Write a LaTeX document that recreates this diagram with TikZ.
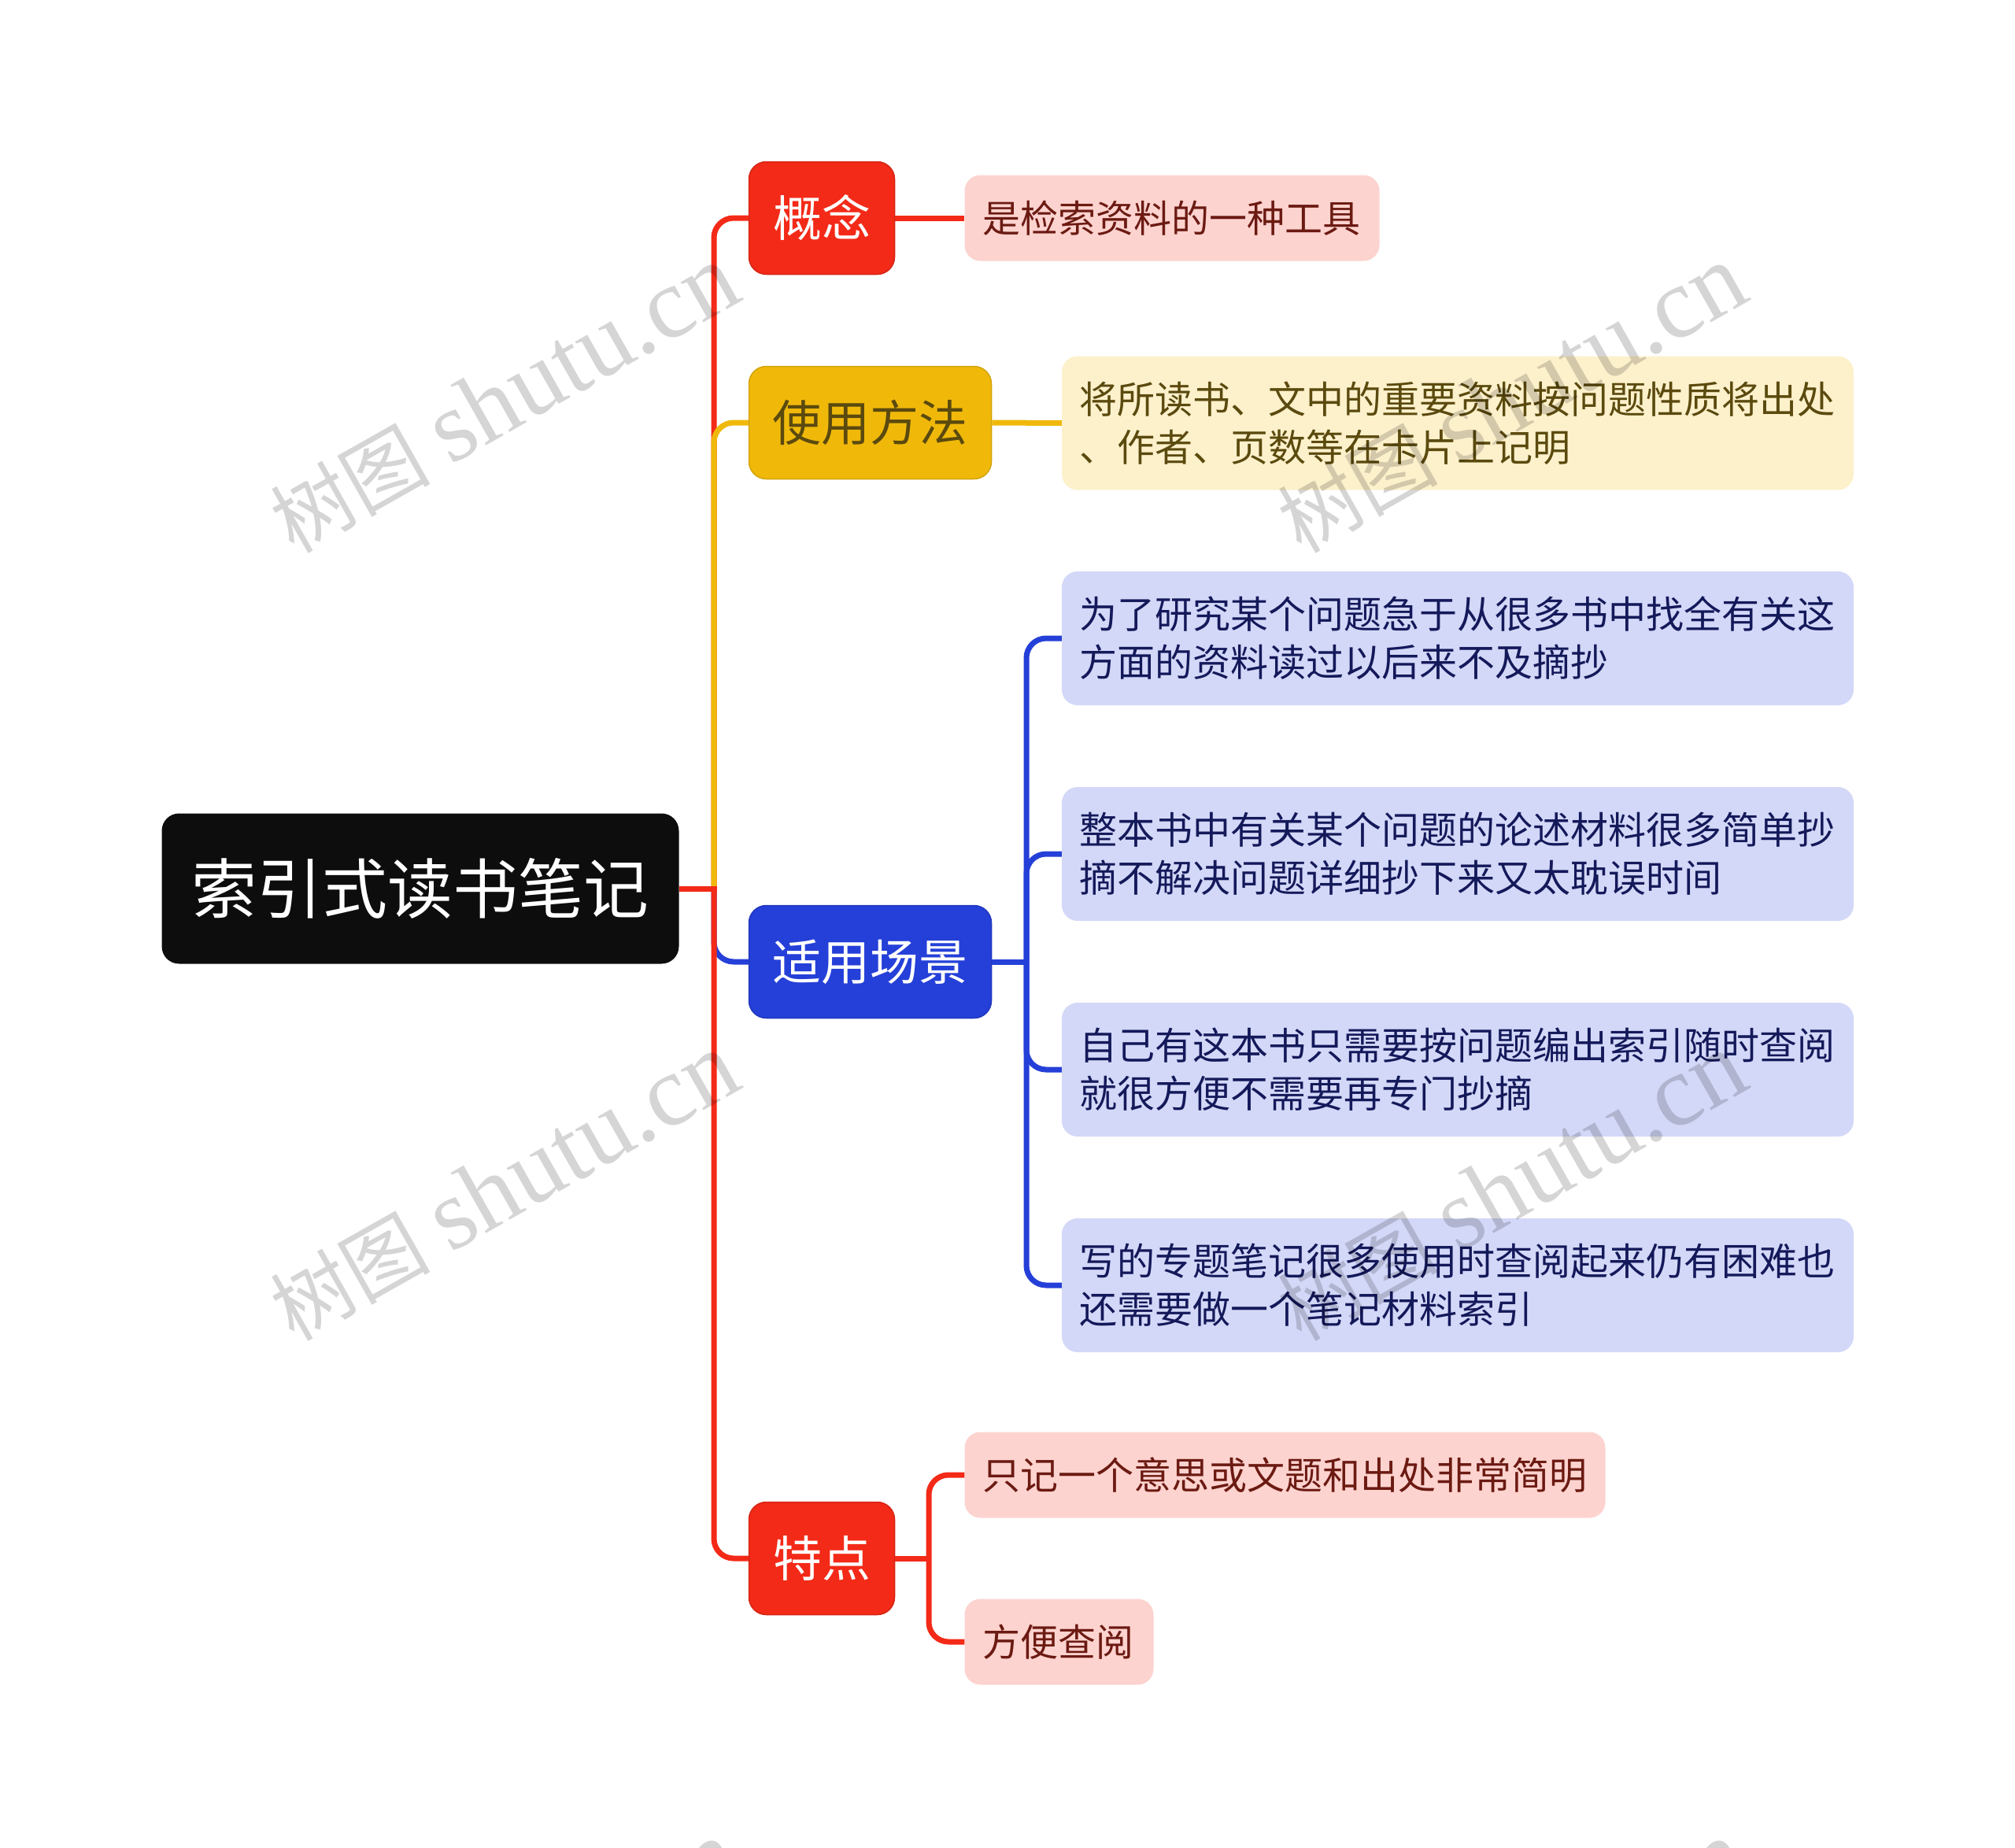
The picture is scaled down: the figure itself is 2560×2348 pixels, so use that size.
\documentclass[tikz,border=0pt]{standalone}
\usepackage{fontspec}
\setmainfont{Noto Sans CJK SC}
\newfontfamily\wmlatin{Liberation Serif}
\definecolor{cred}{HTML}{F32A18}
\definecolor{cyel}{HTML}{F0B90A}
\definecolor{cblu}{HTML}{2540D8}
\definecolor{lred}{HTML}{FDD3CF}
\definecolor{lyel}{HTML}{FDF1CC}
\definecolor{lblu}{HTML}{D3D8F8}
\definecolor{tred}{HTML}{6B1A12}
\definecolor{tyel}{HTML}{5B4A0E}
\definecolor{tblu}{HTML}{14195A}
\tikzset{
 rootbox/.style={fill=black!95,text=white,rounded corners=22pt,inner sep=0pt,minimum width=657pt,minimum height=191pt,font=\fontsize{83}{96}\selectfont},
 topicbox/.style={fill=#1,draw=#1!88!black,line width=1.5pt,text=white,rounded corners=22pt,inner sep=0pt,minimum height=143pt,font=\fontsize{62}{74}\selectfont},
 leafbox/.style 2 args={fill=#1,text=#2,rounded corners=20pt,inner sep=0pt,font=\fontsize{48}{61}\selectfont,align=left},
 conn/.style={draw=#1,line width=7pt,rounded corners=25pt},
 straightconn/.style={draw=#1,line width=7pt},
 mark text/.style={text=black,text opacity=.165,rotate=29.5,inner sep=0pt,anchor=base east},
}
\newcommand{\wmk}[3]{\node[mark text] (#1) at (#2,#3) {\fontsize{102}{130}\selectfont 树图\hspace{25pt}\fontsize{128}{130}\selectfont{\wmlatin shutu.cn}};}
\begin{document}
\begin{tikzpicture}[x=1pt,y=-1pt]
\useasboundingbox (0,0) rectangle (2560,2348);
\clip (0,0) rectangle (2560,2348);
\fill[white] (0,0) rectangle (2560,2348);
\coordinate (t) at (907,0);
\coordinate (b) at (1304,0);
\coordinate (c) at (1180,0);
\node[rootbox] (root) at (534,1129) {索引式读书笔记};
\node[topicbox=cred,minimum width=185pt] (a) at (1044,277) {概念};
\node[topicbox=cyel,minimum width=308pt,text=tyel] (m) at (1105.5,537) {使用方法};
\node[topicbox=cblu,minimum width=308pt] (s) at (1105.5,1222) {适用场景};
\node[topicbox=cred,minimum width=185pt] (f) at (1044,1980) {特点};
\node[leafbox={lred}{tred},minimum width=527pt,minimum height=109pt,text width=481pt] (a1) at (1489,277) {是检索资料的一种工具};
\node[leafbox={lyel}{tyel},minimum width=1006pt,minimum height=170pt,text width=960.5pt] (m1) at (1852,537.5) {将所读书、文中的重要资料按问题性质将出处\\、作者、页数等在卡片上记明};
\node[leafbox={lblu}{tblu},minimum width=1006pt,minimum height=170pt,text width=960.5pt] (s1) at (1852,811) {为了研究某个问题急于从很多书中找全有关这\\方面的资料读过以后来不及摘抄};
\node[leafbox={lblu}{tblu},minimum width=1006pt,minimum height=170pt,text width=960.5pt] (s2) at (1852,1085) {整本书中有关某个问题的论述材料很多简单抄\\摘不解决问题详细抄下来又太耽误时间};
\node[leafbox={lblu}{tblu},minimum width=1006pt,minimum height=170pt,text width=960.5pt] (s3) at (1852,1359) {自己有这本书只需要按问题编出索引随时查阅\\就很方便不需要再专门抄摘};
\node[leafbox={lblu}{tblu},minimum width=1006pt,minimum height=170pt,text width=960.5pt] (s4) at (1852,1633) {写的专题笔记很多使用时查阅起来仍有困难也\\还需要做一个笔记材料索引};
\node[leafbox={lred}{tred},minimum width=814pt,minimum height=109pt,text width=768pt] (f1) at (1632.5,1874) {只记一个意思或文题和出处非常简明};
\node[leafbox={lred}{tred},minimum width=240pt,minimum height=109pt,text width=194pt] (f2) at (1345.5,2086) {方便查阅};
% connectors
\draw[conn=cred] (root.east -| t) -- (t |- a.west) -- (a.west);
\draw[conn=cyel] (root.east -| t) -- (t |- m.west) -- (m.west);
\draw[conn=cblu] (root.east -| t) -- (t |- s.west) -- (s.west);
\draw[conn=cred] (root.east -| t) -- (t |- f.west) -- (f.west);
\draw[straightconn=cred] (root.east) -- ([xshift=3.5pt]root.east -| t);
\draw[straightconn=cred] (a.east) -- (a1.west);
\draw[straightconn=cyel] (m.east) -- (m1.west);
\draw[straightconn=cblu] (s.east) -- (s.east -| b);
\draw[conn=cblu] (s.east -| b) -- (b |- s1.west) -- (s1.west);
\draw[conn=cblu] (s.east -| b) -- (b |- s2.west) -- (s2.west);
\draw[conn=cblu] (s.east -| b) -- (b |- s3.west) -- (s3.west);
\draw[conn=cblu] (s.east -| b) -- (b |- s4.west) -- (s4.west);
\draw[straightconn=cred] (f.east) -- (f.east -| c);
\draw[conn=cred] (f.east -| c) -- (c |- f1.west) -- (f1.west);
\draw[conn=cred] (f.east -| c) -- (c |- f2.west) -- (f2.west);
% watermarks
\wmk{w1}{947}{380}
\wmk{w2}{2227}{380}
\wmk{w3}{947}{1381}
\wmk{w4}{2227}{1381}
\wmk{w5}{947}{2382}
\wmk{w6}{2227}{2382}
\end{tikzpicture}
\end{document}
